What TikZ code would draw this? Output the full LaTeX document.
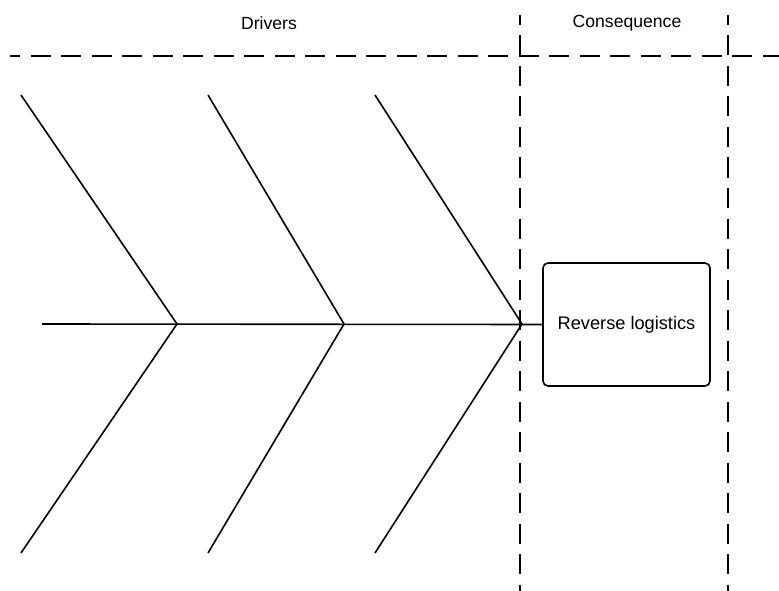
\documentclass[tikz,border=0pt]{standalone}
\usepackage{fontspec}
\setmainfont{Liberation Sans}
\begin{document}
\begin{tikzpicture}[x=1pt,y=-1pt,
  bone/.style={line width=1.6pt,line join=miter},
  divider/.style={line width=1.6pt,dash pattern=on 20pt off 10.5pt,dash phase=10pt},
  heading/.style={font=\fontsize{17.6}{20}\selectfont,inner sep=0pt},
  effectbox/.style={draw,line width=1.6pt,rounded corners=5pt,minimum width=167pt,minimum height=123pt,
    font=\fontsize{18.2}{20}\selectfont,inner sep=0pt}]
\useasboundingbox (0,0) rectangle (779,591);

% section headings
\node[heading] (drivers) at (269,23) {Drivers};
\node[heading] (conseq) at (627,23) {Consequence};

% section dividers
\coordinate (hl) at (10,56);
\coordinate (hr) at (779,56);
\coordinate (v1t) at (520,15);
\coordinate (v1b) at (520,591);
\coordinate (v2t) at (728,15);
\coordinate (v2b) at (728,591);
\draw[divider] (hl) -- (hr);
\draw[divider] (v1t) -- (v1b);
\draw[divider] (v2t) -- (v2b);

% effect box
\node[effectbox] (effect) at (626.5,324.5) {Reverse logistics};

% spine
\coordinate (tail) at (42,324);
\draw[bone] (tail) -- (effect.west);

% ribs
\coordinate (j1) at (177,324);
\coordinate (j2) at (344,324);
\coordinate (j3) at (522,324);
\coordinate (t1) at (21,95);
\coordinate (t2) at (208,95);
\coordinate (t3) at (375,95);
\coordinate (b1) at (21,553);
\coordinate (b2) at (208,553);
\coordinate (b3) at (375,553);
\draw[bone] (t1) -- (j1) -- (b1);
\draw[bone] (t2) -- (j2) -- (b2);
\draw[bone] (t3) -- (j3) -- (b3);
\end{tikzpicture}
\end{document}
